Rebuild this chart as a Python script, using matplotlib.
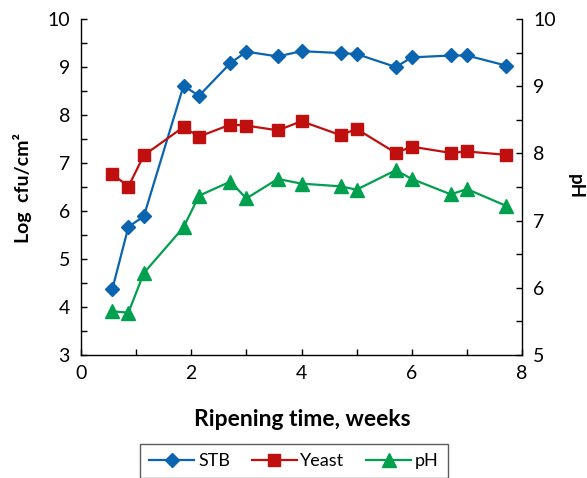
import matplotlib
matplotlib.use("Agg")
import matplotlib.pyplot as plt
from matplotlib.ticker import MultipleLocator
from matplotlib.lines import Line2D

weeks = [0.57, 0.86, 1.14, 1.86, 2.14, 2.71, 3.0, 3.57, 4.0, 4.71, 5.0, 5.71, 6.0, 6.71, 7.0, 7.71]
stb = [4.38, 5.67, 5.89, 8.61, 8.40, 9.08, 9.32, 9.22, 9.33, 9.29, 9.27, 9.00, 9.20, 9.24, 9.24, 9.03]
yeast = [6.77, 6.51, 7.16, 7.75, 7.55, 7.80, 7.78, 7.68, 7.87, 7.58, 7.71, 7.21, 7.34, 7.21, 7.24, 7.17]
ph = [5.65, 5.63, 6.22, 6.90, 7.37, 7.58, 7.33, 7.62, 7.55, 7.51, 7.46, 7.75, 7.62, 7.39, 7.47, 7.22]

FONT = "Lato"
plt.rcParams['font.family'] = [FONT, 'DejaVu Sans']

blue = '#0A64AF'
red = '#C00F0F'
green = '#00A04E'

fig = plt.figure(figsize=(5.87, 4.78), dpi=100)
ax = fig.add_axes([81/587, 1-355/478, 441/587, 336/478])
ax2 = ax.twinx()

ax.plot(weeks, stb, color=blue, lw=1.6, marker='D', ms=7.5, mec=blue, mfc=blue, zorder=3)
ax.plot(weeks, yeast, color=red, lw=1.6, marker='s', ms=9, mec=red, mfc=red, zorder=3)
ax2.plot(weeks, ph, color=green, lw=1.6, marker='^', ms=9.5, mec=green, mfc=green, zorder=3)

ax.set_xlim(0, 8)
ax.set_ylim(3, 10)
ax2.set_ylim(5, 10)

ax.xaxis.set_major_locator(MultipleLocator(2))
ax.xaxis.set_minor_locator(MultipleLocator(1))
ax.yaxis.set_major_locator(MultipleLocator(1))
ax.yaxis.set_minor_locator(MultipleLocator(0.5))
ax2.yaxis.set_major_locator(MultipleLocator(1))
ax2.yaxis.set_minor_locator(MultipleLocator(0.5))

for a in (ax, ax2):
    a.spines['top'].set_visible(False)
    for s in a.spines.values():
        s.set_linewidth(1.0)
        s.set_color('black')
ax.spines['right'].set_visible(False)
ax2.spines['left'].set_visible(False)
ax2.spines['bottom'].set_visible(False)

ax.tick_params(axis='both', which='both', direction='in', length=4.5, width=1.0, labelsize=14)
ax.tick_params(axis='y', which='both', pad=8)
ax.tick_params(axis='x', which='both', pad=7)
ax.tick_params(axis='x', which='minor', length=4)
ax2.tick_params(axis='y', which='both', direction='in', length=4.5, width=1.0, labelsize=14, pad=8)

ax.set_xlabel('Ripening time, weeks', fontsize=16.5, fontweight='bold')
ax.xaxis.set_label_coords(0.502, -0.16)
ax.set_ylabel('Log  cfu/cm\u00b2', fontsize=14, fontweight='bold')
ax.yaxis.set_label_coords(-0.111, 0.497)
ax2.set_ylabel('pH', fontsize=13.5, fontweight='bold', rotation=270, va='center')
ax2.yaxis.set_label_coords(1.122, 0.5)

handles = [
    Line2D([], [], color=blue, lw=1.6, marker='D', ms=7.5, mfc=blue, mec=blue),
    Line2D([], [], color=red, lw=1.6, marker='s', ms=9, mfc=red, mec=red),
    Line2D([], [], color=green, lw=1.6, marker='^', ms=9.5, mfc=green, mec=green),
]
leg = fig.legend(handles, ['STB', 'Yeast', 'pH'], loc='upper center',
                 bbox_to_anchor=(294/587, 1-444/478), ncol=3, frameon=True,
                 fancybox=False, edgecolor='#333333', fontsize=13,
                 handlelength=2.5, handletextpad=0.2, columnspacing=1.2,
                 borderpad=0.5, borderaxespad=0)
leg.get_frame().set_linewidth(1.0)

fig.savefig('out.png', dpi=100)
